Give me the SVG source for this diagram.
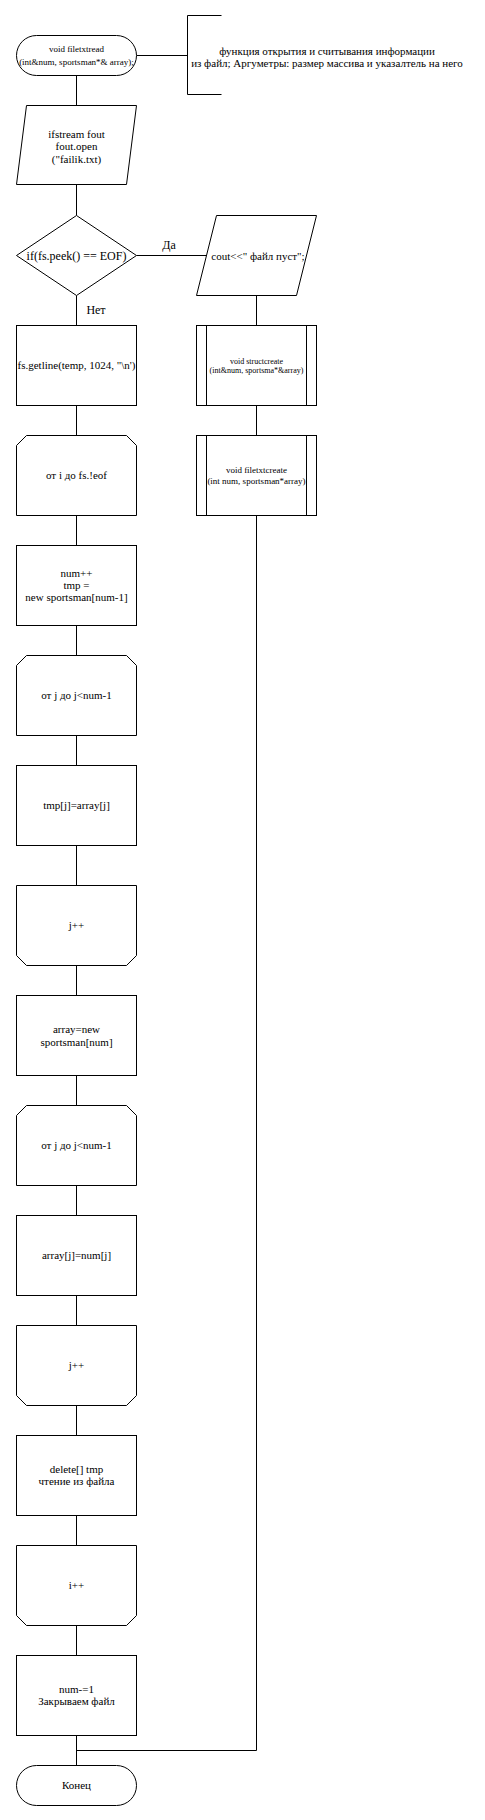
<svg xmlns="http://www.w3.org/2000/svg" width="485" height="1820" viewBox="0 0 485 1820">
<style>
.s{fill:#fff;stroke:#000;stroke-width:1}
.l{fill:none;stroke:#000;stroke-width:1}
text{font-family:"Liberation Serif","Times New Roman",serif;fill:#000;text-anchor:middle}
.t11{font-size:11px}
.t9{font-size:9px}
.t8{font-size:8px}
.t12{font-size:12px}
</style>
<rect width="485" height="1820" fill="#fff"/>
<g id="connectors">
<path class="l" d="M136.5 55.5H187.5M221.5 15.5H187.5V94.5H221.5"/>
<path class="l" d="M76.5 75.5V105.5M76.5 184.5V215.5M76.5 295.5V325.5M76.5 405.5V435.5M76.5 515.5V545.5M76.5 625.5V655.5M76.5 735.5V765.5M76.5 845.5V885.5M76.5 965.5V995.5M76.5 1075.5V1105.5M76.5 1185.5V1215.5M76.5 1295.5V1325.5M76.5 1405.5V1435.5M76.5 1515.5V1545.5M76.5 1625.5V1655.5M76.5 1735.5V1765.5"/>
<path class="l" d="M136.5 255.5H206.5M256.5 295.5V325.5M256.5 405.5V435.5M256.5 515.5V1750.5H76.5"/>
<text class="t12" x="169" y="249">Да</text>
<text class="t12" x="96" y="314">Нет</text>
</g>
<g id="start">
<rect class="s" x="16.5" y="35.5" width="120" height="40" rx="20"/>
<text class="t9" x="76.5" y="52">void filetxtread</text>
<text class="t9" x="76.5" y="65">(int&amp;num, sportsman*&amp; array);</text>
</g>
<g id="comment">
<text class="t11" x="327" y="55">функция открытия и считывания информации</text>
<text class="t11" x="327" y="67">из файл; Аргуметры: размер массива и указалтель на него</text>
</g>
<g id="open">
<path class="s" d="M26.5 105.5H136.5L126.5 184.5H16.5Z"/>
<text class="t11" x="76.5" y="138">ifstream fout</text>
<text class="t11" x="76.5" y="150">fout.open</text>
<text class="t11" x="76.5" y="163">("failik.txt)</text>
</g>
<g id="check">
<path class="s" d="M76.5 215.5L136.5 255.5L76.5 295.5L16.5 255.5Z"/>
<text class="t12" x="76.5" y="260">if(fs.peek() == EOF)</text>
</g>
<g id="empty">
<path class="s" d="M216.5 215.5H316.5L296.5 295.5H196.5Z"/>
<text class="t11" x="258" y="260">cout&lt;&lt;" файл пуст";</text>
</g>
<g id="structcreate">
<rect class="s" x="196.5" y="325.5" width="120" height="80"/>
<path class="l" d="M206.5 325.5V405.5M306.5 325.5V405.5"/>
<text class="t8" x="256.5" y="364">void structcreate</text>
<text class="t8" x="256.5" y="373">(int&amp;num, sportsma*&amp;array)</text>
</g>
<g id="filetxtcreate">
<rect class="s" x="196.5" y="435.5" width="120" height="80"/>
<path class="l" d="M206.5 435.5V515.5M306.5 435.5V515.5"/>
<text class="t9" x="256.5" y="473">void filetxtcreate</text>
<text class="t9" x="256.5" y="484">(int num, sportsman*array)</text>
</g>
<g id="getline">
<rect class="s" x="16.5" y="325.5" width="120" height="80"/>
<text class="t11" x="76.5" y="369">fs.getline(temp, 1024, "\n')</text>
</g>
<g id="loop-i">
<path class="s" d="M26.5 435.5H126.5L136.5 445.5V515.5H16.5V445.5Z"/>
<text class="t11" x="76.5" y="479">от i до fs.!eof</text>
</g>
<g id="num-inc">
<rect class="s" x="16.5" y="545.5" width="120" height="80"/>
<text class="t11" x="76.5" y="577">num++</text>
<text class="t11" x="76.5" y="589">tmp =</text>
<text class="t11" x="76.5" y="601">new sportsman[num-1]</text>
</g>
<g id="loop-j1">
<path class="s" d="M26.5 655.5H126.5L136.5 665.5V735.5H16.5V665.5Z"/>
<text class="t11" x="76.5" y="699">от j до j&lt;num-1</text>
</g>
<g id="copy-tmp">
<rect class="s" x="16.5" y="765.5" width="120" height="80"/>
<text class="t11" x="76.5" y="809">tmp[j]=array[j]</text>
</g>
<g id="loop-j1-end">
<path class="s" d="M16.5 885.5H136.5V955.5L126.5 965.5H26.5L16.5 955.5Z"/>
<text class="t11" x="76.5" y="929">j++</text>
</g>
<g id="new-array">
<rect class="s" x="16.5" y="995.5" width="120" height="80"/>
<text class="t11" x="76.5" y="1033">array=new</text>
<text class="t11" x="76.5" y="1046">sportsman[num]</text>
</g>
<g id="loop-j2">
<path class="s" d="M26.5 1105.5H126.5L136.5 1115.5V1185.5H16.5V1115.5Z"/>
<text class="t11" x="76.5" y="1149">от j до j&lt;num-1</text>
</g>
<g id="copy-array">
<rect class="s" x="16.5" y="1215.5" width="120" height="80"/>
<text class="t11" x="76.5" y="1259">array[j]=num[j]</text>
</g>
<g id="loop-j2-end">
<path class="s" d="M16.5 1325.5H136.5V1395.5L126.5 1405.5H26.5L16.5 1395.5Z"/>
<text class="t11" x="76.5" y="1369">j++</text>
</g>
<g id="delete">
<rect class="s" x="16.5" y="1435.5" width="120" height="80"/>
<text class="t11" x="76.5" y="1473">delete[] tmp</text>
<text class="t11" x="76.5" y="1485">чтение из файла</text>
</g>
<g id="loop-i-end">
<path class="s" d="M16.5 1545.5H136.5V1615.5L126.5 1625.5H26.5L16.5 1615.5Z"/>
<text class="t11" x="76.5" y="1589">i++</text>
</g>
<g id="close">
<rect class="s" x="16.5" y="1655.5" width="120" height="80"/>
<text class="t11" x="76.5" y="1693">num-=1</text>
<text class="t11" x="76.5" y="1705">Закрываем файл</text>
</g>
<g id="end">
<rect class="s" x="16.5" y="1765.5" width="120" height="40" rx="20"/>
<text class="t11" x="76.5" y="1789">Конец</text>
</g>
</svg>
